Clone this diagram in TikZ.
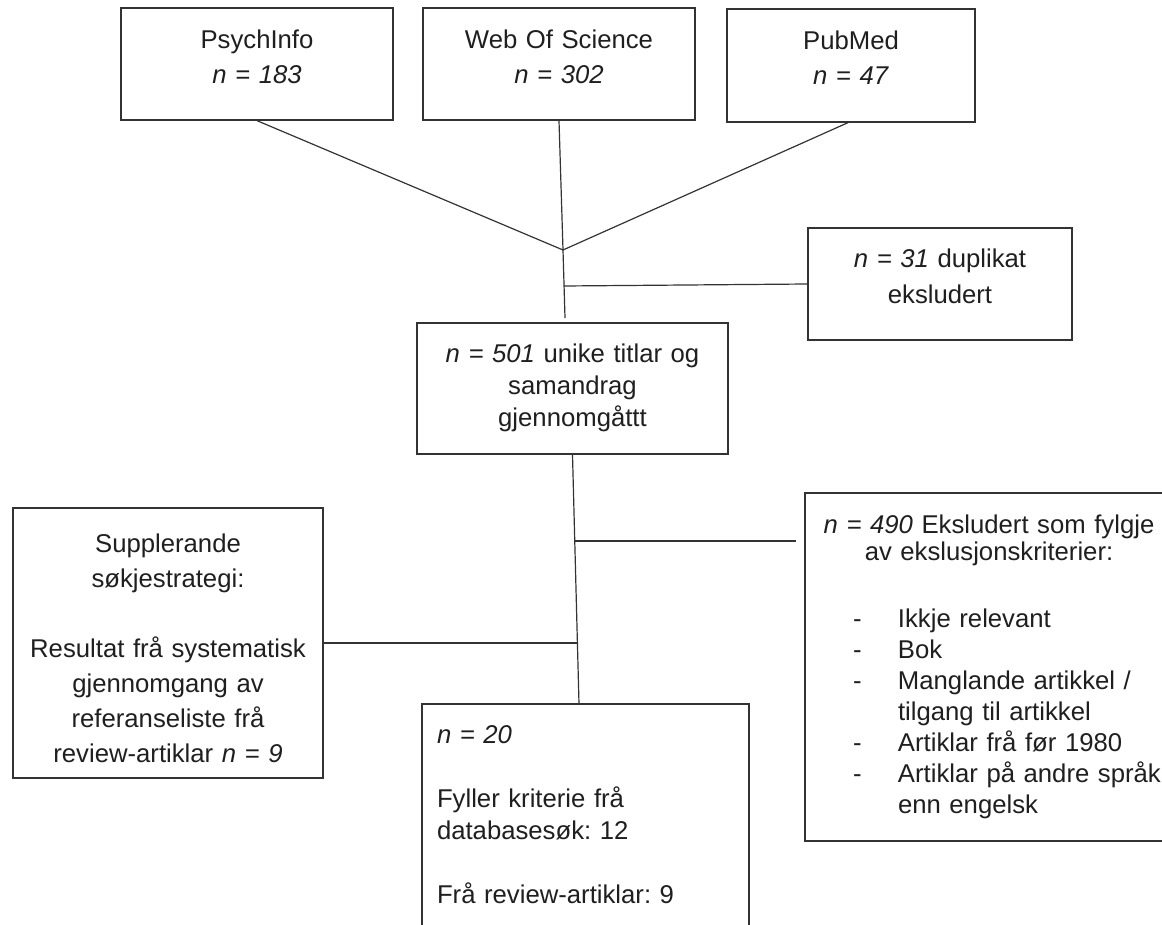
\documentclass[tikz,border=0pt]{standalone}
\usepackage{fontspec}
\setmainfont{Liberation Sans}
\frenchspacing
\newcommand\exitem{\hspace*{24pt}\makebox[22.5pt][l]{-}}
\newcommand\resind{\hspace*{7.5pt}}
\begin{document}
\begin{tikzpicture}[x=0.5pt,y=-0.5pt,
  box/.style={draw=black!80, line width=0.65pt, inner sep=0pt, anchor=base, text=black!88},
  conn/.style={draw=black!80, line width=0.6pt}]
\useasboundingbox[fill=white] (0,0) rectangle (1162,925);

% top row
\node[box, align=center, text width=136pt, text height=20.5pt, text depth=35.5pt,
  font=\fontsize{12.85pt}{17.5pt}\selectfont] (psy) at (257,49) {PsychInfo\\\textit{n = 183}};
\node[box, align=center, text width=136pt, text height=20.5pt, text depth=35.5pt,
  font=\fontsize{12.85pt}{17.5pt}\selectfont] (wos) at (559,49) {Web Of Science\\\textit{n = 302}};
\node[box, align=center, text width=124pt, text height=20.5pt, text depth=36pt,
  font=\fontsize{12.85pt}{17.5pt}\selectfont] (pub) at (851,50) {PubMed\\\textit{n = 47}};

% duplicates
\node[box, align=center, text width=132pt, text height=20pt, text depth=36pt,
  font=\fontsize{12.85pt}{18pt}\selectfont] (dup) at (940,268) {\textit{n = 31} duplikat\\eksludert};

% unique
\node[box, align=center, text width=155.5pt, text height=20pt, text depth=45.5pt,
  font=\fontsize{12.85pt}{16pt}\selectfont] (uniq) at (572.5,363) {\textit{n = 501} unike titlar og\\samandrag\\gjennomgåttt};

% supplementary
\node[box, align=center, text width=155pt, text height=22pt, text depth=113pt,
  font=\fontsize{12.85pt}{17.5pt}\selectfont] (supp) at (168,552)
  {Supplerande\\søkjestrategi:\\[17.5pt]Resultat frå systematisk\\gjennomgang av\\referanseliste frå\\review-artiklar \textit{n = 9}};

% result
\node[box, align=left, text width=163.5pt, text height=19.5pt, text depth=128.5pt,
  font=\fontsize{12.85pt}{16pt}\selectfont] (res) at (585.5,743)
  {\resind\textit{n = 20}\\[16pt]\resind Fyller kriterie frå\\\resind databasesøk: 12\\[16pt]\resind Frå review-artiklar: 9};

% excluded
\node[box, align=left, text width=184pt, text height=20pt, text depth=154pt,
  font=\fontsize{12.85pt}{15.5pt}\selectfont] (exc) at (989,533)
  {{\centering\textit{n = 490} Eksludert som fylgje\\[-2pt]av ekslusjonskriterier:\par}
   \vspace{18pt}
   \exitem Ikkje relevant\\
   \exitem Bok\\
   \exitem Manglande artikkel /\\
   \hspace*{46.5pt}tilgang til artikkel\\
   \exitem Artiklar frå før 1980\\
   \exitem Artiklar på andre språk\\
   \hspace*{46.5pt}enn engelsk};

% connector points
\coordinate (j) at (563,250);
\coordinate (u1) at (565,318);
\coordinate (d1) at (564,286);
\coordinate (h1) at (575,541);
\coordinate (h2) at (577.5,643);
\coordinate (v2) at (579,704);

\draw[conn] (psy.south) -- (j);
\draw[conn] (wos.south) -- (j);
\draw[conn] ([xshift=-1.5pt]pub.south) -- (j);
\draw[conn] (j) -- (u1);
\draw[conn] (d1) -- (dup.west);
\draw[conn] (uniq.south) -- (v2);
\draw[conn, shorten >=4pt] (h1) -- (h1 -| exc.west);
\draw[conn] (supp.east) -- (h2);
\end{tikzpicture}
\end{document}
